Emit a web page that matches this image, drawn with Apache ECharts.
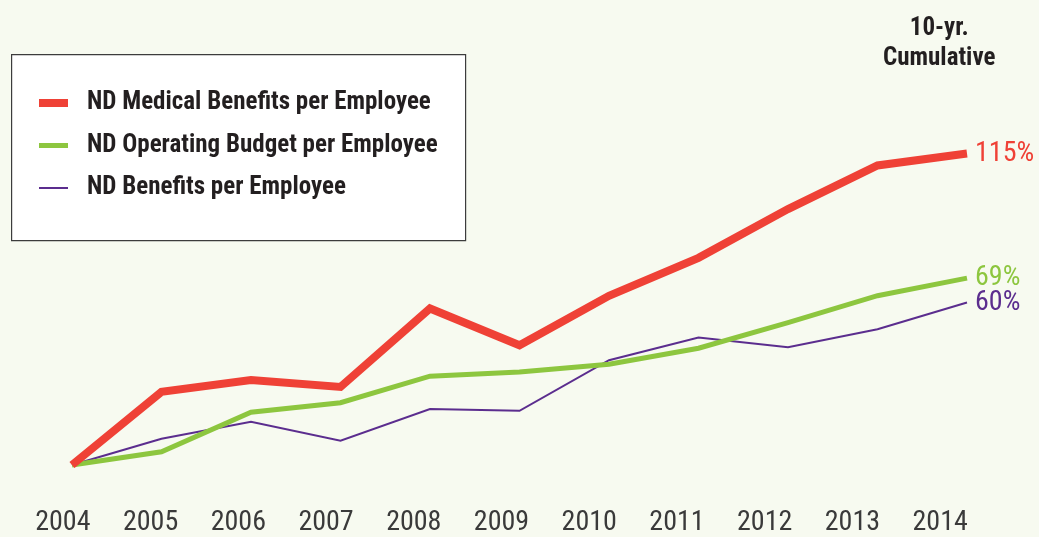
<!DOCTYPE html>
<html><head><meta charset="utf-8">
<script src="https://cdn.jsdelivr.net/npm/echarts@6/dist/echarts.min.js"></script>
<style>html,body{margin:0;padding:0;background:#f7faf0;}#c{width:1039px;height:537px;}</style>
</head><body><div id="c"></div>
<script>
const years = [2004, 2005, 2006, 2007, 2008, 2009, 2010, 2011, 2012, 2013, 2014];
const yearLabels = ['2004','2005','2006','2007','2008','2009','2010','2011','2012','2013','2014'];
const seriesNames = ['ND Medical Benefits per Employee', 'ND Operating Budget per Employee', 'ND Benefits per Employee'];
const medical = [0, 27.0, 31.4, 28.8, 57.8, 44.2, 62.5, 76.5, 94.5, 110.6, 115];
const operating = [0, 4.9, 19.5, 23.0, 32.8, 34.3, 37.2, 43.1, 52.6, 62.5, 69];
const benefits = [0, 9.7, 16.0, 9.0, 20.7, 20.0, 38.7, 47.1, 43.5, 50.1, 60];

const FONT = '"Roboto Condensed", "Liberation Sans Narrow", "DejaVu Sans Condensed", sans-serif';
const colors = ['#ef4136', '#8dc63f', '#5b2d8e'];
const widths = [8, 5, 2];
const values = [medical, operating, benefits];

const chart = echarts.init(document.getElementById('c'), null, {renderer: 'canvas'});
chart.setOption({
  animation: false,
  backgroundColor: '#f7faf0',
  grid: {left: 19, right: 55, top: 140, bottom: 69.5},
  xAxis: [
    {type: 'category', data: yearLabels, boundaryGap: true, position: 'bottom',
     axisLine: {show: false}, axisTick: {show: false}, splitLine: {show: false},
     axisLabel: {margin: 44, fontFamily: FONT, fontSize: 28, color: '#3a3a3a'}},
    {type: 'value', min: 2003.408, max: 2014.19, show: false}
  ],
  yAxis: {type: 'value', min: 0, max: 120, show: false},
  legend: {
    orient: 'vertical', left: 11, top: 54, padding: [34, 20, 20, 24],
    itemWidth: 29, itemHeight: 14, itemGap: 12.5,
    textStyle: {fontFamily: FONT, fontSize: 25, fontWeight: 'bold', color: '#231f20', lineHeight: 30, padding: [0, 0, 0, 14]},
    data: seriesNames.map((n, i) => ({name: n, lineStyle: {width: widths[i], color: colors[i]}, itemStyle: {opacity: 0}}))
  },
  graphic: [
    {type: 'rect', left: 11, top: 54, z: -10, shape: {width: 454, height: 186}, style: {fill: '#ffffff', stroke: '#3c3c3c', lineWidth: 1.2}},
    {type: 'group', left: 883, top: 14, children: [
      {type: 'text', x: 57, y: 0, style: {text: '10-yr.\nCumulative', fill: '#231f20', font: 'bold 25px ' + FONT, align: 'center', lineHeight: 30}}
    ]}
  ],
  series: values.map((vals, i) => ({
    name: seriesNames[i], type: 'line', xAxisIndex: 1, yAxisIndex: 0,
    data: years.map((y, k) => [y, vals[k]]),
    showSymbol: false, symbol: 'none', clip: false, z: 10 - i,
    lineStyle: {width: widths[i], color: colors[i], join: 'miter', cap: 'butt'},
    itemStyle: {color: colors[i]},
    endLabel: {show: true, distance: 8, fontFamily: FONT, fontSize: 28, color: colors[i],
               formatter: p => p.value[1] + '%'}
  }))
});
</script></body></html>
